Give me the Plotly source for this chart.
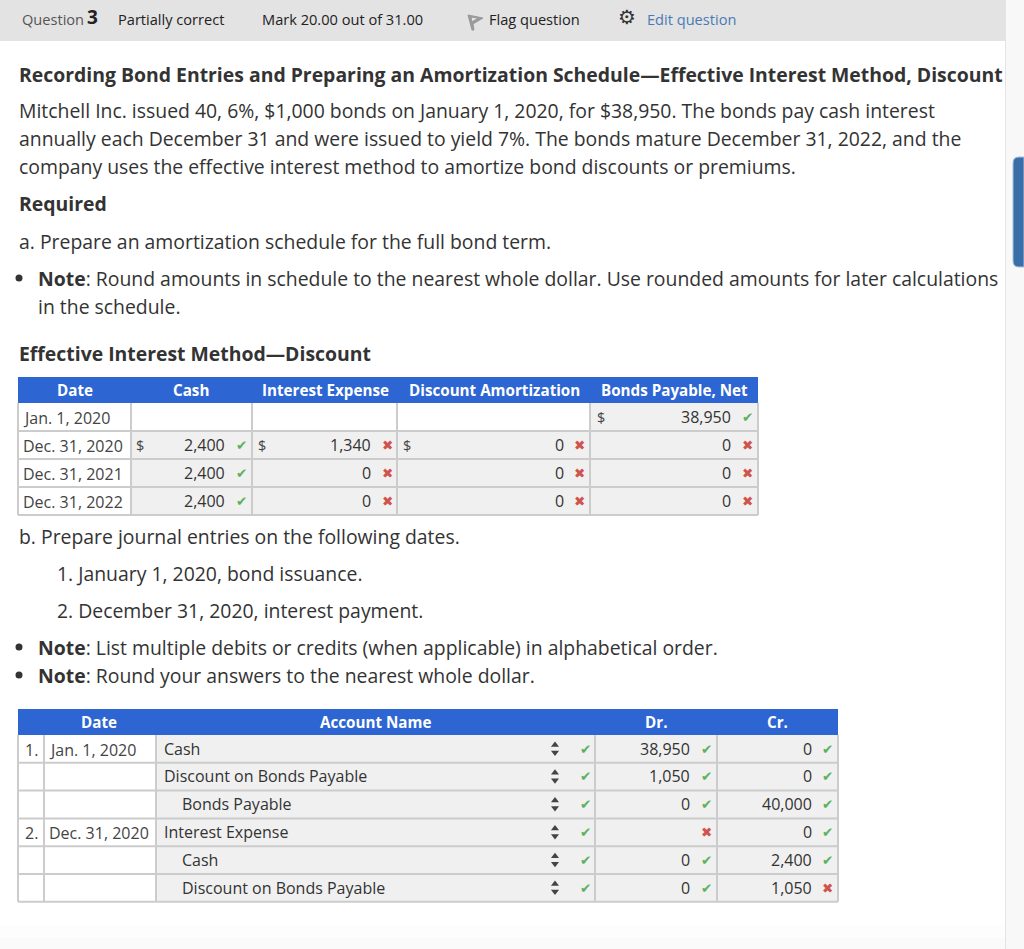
import plotly.graph_objects as go

# ---------- content ----------
header_items = ["Partially correct", "Mark 20.00 out of 31.00", "Flag question", "Edit question"]
title = "Recording Bond Entries and Preparing an Amortization Schedule—Effective Interest Method, Discount"
para = ["Mitchell Inc. issued 40, 6%, $1,000 bonds on January 1, 2020, for $38,950. The bonds pay cash interest",
        "annually each December 31 and were issued to yield 7%. The bonds mature December 31, 2022, and the",
        "company uses the effective interest method to amortize bond discounts or premiums."]

t1_headers = ["Date", "Cash", "Interest Expense", "Discount Amortization", "Bonds Payable, Net"]
t1_dates = ["Jan. 1, 2020", "Dec. 31, 2020", "Dec. 31, 2021", "Dec. 31, 2022"]
t1_cash = [None, "2,400", "2,400", "2,400"]
t1_cash_ok = [None, True, True, True]
t1_interest = [None, "1,340", "0", "0"]
t1_interest_ok = [None, False, False, False]
t1_amort = [None, "0", "0", "0"]
t1_amort_ok = [None, False, False, False]
t1_net = ["38,950", "0", "0", "0"]
t1_net_ok = [True, False, False, False]

t2_headers = ["Date", "Account Name", "Dr.", "Cr."]
t2_nums = ["1.", "", "", "2.", "", ""]
t2_dates = ["Jan. 1, 2020", "", "", "Dec. 31, 2020", "", ""]
t2_accounts = ["Cash", "Discount on Bonds Payable", "Bonds Payable", "Interest Expense", "Cash", "Discount on Bonds Payable"]
t2_indent = [False, False, True, False, True, True]
t2_dr = ["38,950", "1,050", "0", "", "0", "0"]
t2_dr_ok = [True, True, True, False, True, True]
t2_cr = ["0", "0", "40,000", "0", "2,400", "1,050"]
t2_cr_ok = [True, True, True, True, True, False]

# ---------- style ----------
FONT = "Open Sans"
BODY = "#333333"
BLUE = "#2d66d3"
CELL = "#f0f0f0"
LINE = "#cccccc"
GREEN = "#5cb25c"
RED = "#d0544e"

ann, shp = [], []


def txt(x, y, s, size=19.4, color=BODY, anchor="left", bold=False, family=FONT):
    ann.append(dict(x=x, y=y, xref="x", yref="y", text=f"<b>{s}</b>" if bold else s, showarrow=False,
                    xanchor=anchor, yanchor="middle", borderpad=0, borderwidth=0,
                    font=dict(family=family, size=size, color=color)))


def rect(x0, y0, x1, y1, fill, line=None, lw=0):
    shp.append(dict(type="rect", xref="x", yref="y", x0=x0, y0=y0, x1=x1, y1=y1, fillcolor=fill,
                    line=dict(color=line or fill, width=lw), layer="below"))


def vline(x, y0, y1, w=2):
    shp.append(dict(type="line", xref="x", yref="y", x0=x, x1=x, y0=y0, y1=y1, line=dict(color=LINE, width=w), layer="below"))


def hline(y, x0, x1, w=2):
    shp.append(dict(type="line", xref="x", yref="y", x0=x0, x1=x1, y0=y, y1=y, line=dict(color=LINE, width=w), layer="below"))


def mark(x, y, ok):
    txt(x, y, "✔" if ok else "✖", size=13.5, color=GREEN if ok else RED, anchor="center", family="DejaVu Sans")


# page furniture
rect(1005, 0, 1024, 949, "#f8f8f8")
rect(1005, 0, 1006, 949, "#e4e4e4")
rect(0, 0, 1005, 41, "#e3e3e3")
rect(0, 925, 1005, 949, "#fdfdfd")
rect(0, 938, 1005, 949, "#fafafa")
shp.append(dict(type="path", xref="x", yref="y", layer="below", fillcolor="#3a6ea8",
                line=dict(color="#a9c1dc", width=1),
                path="M 1024 157 L 1019 157 Q 1013 157 1013 163 L 1013 261 Q 1013 267 1019 267 L 1024 267 Z"))
shp.append(dict(type="path", xref="x", yref="y", layer="below", fillcolor="#9a9a9a",
                line=dict(color="#9a9a9a", width=1),
                path="M 468 15 L 483 18 L 473 24 L 474 30 L 472 30 Z M 471 17 L 472 22 L 478 18 Z"))

# header bar
txt(22, 19, "Question", size=14.6, color="#555555")
txt(87, 17, "3", size=19, color="#222222", bold=True)
txt(118, 19, header_items[0], size=14.6, color="#222222")
txt(262, 19, header_items[1], size=14.6, color="#222222")
txt(489, 19, header_items[2], size=14.6, color="#222222")
txt(627, 17, "⚙", size=20, color="#333333", anchor="center", family="DejaVu Sans")
txt(647, 19, header_items[3], size=14.6, color="#4a7ab5")

# body text
txt(19, 74, title, bold=True, color="#333333")
for y, line in zip((110, 138, 166), para):
    txt(19, y, line)
txt(19, 203, "Required", bold=True)
txt(19, 241, "a. Prepare an amortization schedule for the full bond term.")
txt(38, 278, "<b>Note</b>: Round amounts in schedule to the nearest whole dollar. Use rounded amounts for later calculations")
txt(38, 306, "in the schedule.")
txt(19, 353, "Effective Interest Method—Discount", bold=True)
txt(19, 536, "b. Prepare journal entries on the following dates.")
txt(57, 573, "1. January 1, 2020, bond issuance.")
txt(57, 610, "2. December 31, 2020, interest payment.")
txt(38, 647, "<b>Note</b>: List multiple debits or credits (when applicable) in alphabetical order.")
txt(38, 675, "<b>Note</b>: Round your answers to the nearest whole dollar.")

# ---------- table 1 ----------
T1_TOP, T1_HEAD, T1_ROW = 377, 403, 28
T1_X = [18, 131, 252, 397, 590, 758]
T1_CENTER = [75, 191, 325, 494, 674]
T1_NUM_R = [225, 371, 564, 731]
T1_MARK = [241, 387, 579, 747]
T1_DOLLAR = [140, 262, 407, 601]
t1_rows = len(t1_dates)
t1_bottom = T1_HEAD + T1_ROW * t1_rows
rect(T1_X[0], T1_HEAD, T1_X[-1], t1_bottom, "#ffffff")
rect(T1_X[1], T1_HEAD + T1_ROW, T1_X[-1], t1_bottom, CELL)
rect(T1_X[4], T1_HEAD, T1_X[-1], T1_HEAD + T1_ROW, CELL)
for i in range(1, t1_rows + 1):
    hline(T1_HEAD + T1_ROW * i, T1_X[0], T1_X[-1])
for x in T1_X:
    vline(x, T1_HEAD, t1_bottom)
rect(T1_X[0], T1_TOP, T1_X[-1], T1_HEAD, BLUE)
for c, h in zip(T1_CENTER, t1_headers):
    txt(c, 390, h, size=15.2, color="#ffffff", anchor="center", bold=True)
cols1 = [(t1_cash, t1_cash_ok), (t1_interest, t1_interest_ok), (t1_amort, t1_amort_ok), (t1_net, t1_net_ok)]
for r, d in enumerate(t1_dates):
    y = T1_HEAD + T1_ROW * r + 14
    txt(23, y + 1, d, size=16, color="#444444")
    for c, (vals, oks) in enumerate(cols1):
        if vals[r] is None:
            continue
        txt(T1_NUM_R[c], y, vals[r], size=16, anchor="right")
        mark(T1_MARK[c], y, oks[r])
for x, r in zip(T1_DOLLAR, (1, 1, 1, 0)):
    txt(x, T1_HEAD + T1_ROW * r + 14, "$", size=14.5, color="#444444", anchor="center")

# ---------- table 2 ----------
T2_TOP, T2_HEAD, T2_ROW = 709, 735, 27.8
T2_X = [18, 44, 156, 595, 717, 838]
t2_rows = len(t2_accounts)
t2_bottom = T2_HEAD + T2_ROW * t2_rows
rect(T2_X[0], T2_HEAD, T2_X[2], t2_bottom, "#ffffff")
rect(T2_X[2], T2_HEAD, T2_X[-1], t2_bottom, CELL)
for i in range(1, t2_rows + 1):
    hline(T2_HEAD + T2_ROW * i, T2_X[0], T2_X[-1])
for x in T2_X:
    vline(x, T2_HEAD, t2_bottom)
rect(T2_X[0], T2_TOP, T2_X[-1], T2_HEAD, BLUE)
for c, h in zip((99, 375, 656, 777), t2_headers):
    txt(c, 722, h, size=15.2, color="#ffffff", anchor="center", bold=True)
ys2 = [T2_HEAD + T2_ROW * r + 13.5 for r in range(t2_rows)]
for r, y in enumerate(ys2):
    if t2_nums[r]:
        txt(25, y + 1, t2_nums[r], size=16, color="#444444")
        txt(49, y + 1, t2_dates[r], size=16, color="#444444")
    txt(182 if t2_indent[r] else 164, y, t2_accounts[r], size=16)
    mark(585, y, True)
    if t2_dr[r]:
        txt(690, y, t2_dr[r], size=16, anchor="right")
    mark(706, y, t2_dr_ok[r])
    txt(812, y, t2_cr[r], size=16, anchor="right")
    mark(827, y, t2_cr_ok[r])

fig = go.Figure()
# select-box arrows and list bullets
fig.add_trace(go.Scatter(x=[555] * t2_rows, y=[y - 3.5 for y in ys2], mode="markers", hoverinfo="skip",
                         marker=dict(symbol="triangle-up", size=7, color="#444444")))
fig.add_trace(go.Scatter(x=[555] * t2_rows, y=[y + 4 for y in ys2], mode="markers", hoverinfo="skip",
                         marker=dict(symbol="triangle-down", size=7, color="#444444")))
fig.add_trace(go.Scatter(x=[19, 19, 19], y=[278, 647, 675], mode="markers", hoverinfo="skip",
                         marker=dict(symbol="circle", size=7, color="#333333")))

fig.update_layout(
    width=1024, height=949, margin=dict(l=0, r=0, t=0, b=0), showlegend=False,
    paper_bgcolor="#ffffff", plot_bgcolor="#ffffff", annotations=ann, shapes=shp,
    xaxis=dict(range=[0, 1024], visible=False, fixedrange=True),
    yaxis=dict(range=[949, 0], visible=False, fixedrange=True),
)
fig.write_html("out.html", config={"displayModeBar": False},
               post_script="document.body.style.margin='0';document.body.style.overflow='hidden';")
